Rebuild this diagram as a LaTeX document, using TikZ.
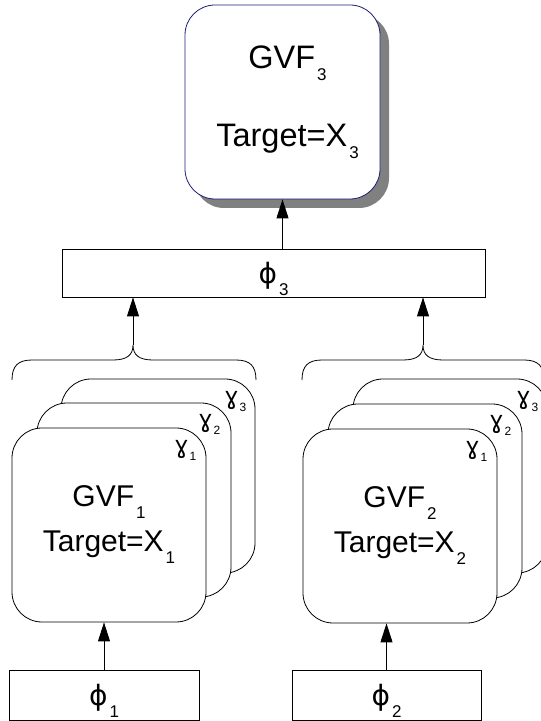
\documentclass[tikz,border=0pt]{standalone}
\usepackage{fontspec}
\setmainfont{Liberation Sans}
\newfontfamily\symfont{DejaVu Sans}
\usepackage{tikz}
\usetikzlibrary{positioning,arrows.meta,shadows}

\definecolor{gvfblue}{RGB}{30,30,120}
\definecolor{shadowgray}{RGB}{128,128,128}
\newcommand{\lowsub}[1]{\kern2pt\raisebox{-12pt}{\fontsize{17}{17}\selectfont #1}}
\newcommand{\gsub}[1]{\kern1pt\raisebox{-7pt}{\fontsize{12}{12}\selectfont #1}}
\newcommand{\phisym}{{\symfont ϕ}}
\newcommand{\gamsym}{{\symfont ɣ}}

\begin{document}
\begin{tikzpicture}[
  x=1pt, y=1pt,
  line width=0.8pt,
  card/.style={draw, rounded corners=30pt, fill=white, minimum width=194pt,
    minimum height=194pt, inner sep=0pt, align=center,
    font=\fontsize{30}{45}\selectfont},
  topbox/.style={card, draw=gvfblue, minimum width=195pt,
    font=\fontsize{32.5}{45}\selectfont,
    drop shadow={shadow xshift=9pt, shadow yshift=-9pt, fill=shadowgray, opacity=1}},
  phibox/.style={draw, fill=white, inner sep=0pt, text height=21pt, text depth=0pt,
    font=\fontsize{28}{28}\selectfont},
  gam/.style={inner sep=0pt, font=\fontsize{24}{24}\selectfont},
  arr/.style={-{Triangle[length=19pt,width=12pt]}}]
\useasboundingbox (0,0) rectangle (541,721);
% top GVF
\node[topbox] (gvf3) at (282.5,619) {\kern10pt GVF\lowsub{3}\\[33pt]\kern10pt Target=X\lowsub{3}};
% phi boxes
\node[phibox, minimum width=423pt, minimum height=48pt] (phi3) at (273.5,448) {\phisym\lowsub{3}};
\node[phibox, minimum width=190pt, minimum height=50pt] (phi1) at (104,26) {\phisym\lowsub{1}};
\node[phibox, minimum width=189pt, minimum height=50pt] (phi2) at (386.5,26) {\phisym\lowsub{2}};
% left stack (back to front)
\node[card] (l3) at (158,245) {};
\node[gam] (lg3) at ([shift={(-20,-23)}]l3.north east) {\gamsym\gsub{3}};
\node[card] (l2) at (134,221) {};
\node[gam] (lg2) at ([shift={(-22,-22)}]l2.north east) {\gamsym\gsub{2}};
\node[card] (l1) at (109,196) {GVF\lowsub{1}\\Target=X\lowsub{1}};
\node[gam] (lg1) at ([shift={(-21,-23)}]l1.north east) {\gamsym\gsub{1}};
% right stack (back to front)
\node[card] (r3) at (450,245) {};
\node[gam] (rg3) at ([shift={(-20,-23)}]r3.north east) {\gamsym\gsub{3}};
\node[card] (r2) at (425,220) {};
\node[gam] (rg2) at ([shift={(-22,-22)}]r2.north east) {\gamsym\gsub{2}};
\node[card] (r1) at (400,195) {GVF\lowsub{2}\\Target=X\lowsub{2}};
\node[gam] (rg1) at ([shift={(-21,-23)}]r1.north east) {\gamsym\gsub{1}};
% braces
\coordinate (lbtip) at (133,376);
\coordinate (rbtip) at (423,376);
\draw (12,341) .. controls (12,355) and (18,361) .. (32,361) -- (113,361)
  .. controls (127,361) and (133,366) .. (lbtip)
  .. controls (133,366) and (139,361) .. (153,361) -- (236,361)
  .. controls (250,361) and (256,355) .. (256,341);
\draw (302,341) .. controls (302,355) and (308,361) .. (322,361) -- (403,361)
  .. controls (417,361) and (423,366) .. (rbtip)
  .. controls (423,366) and (429,361) .. (443,361) -- (524,361)
  .. controls (538,361) and (544,355) .. (544,341);
% arrows
\draw[arr] (phi1.north) -- (phi1.north |- l1.south);
\draw[arr] (phi2.north) -- (phi2.north |- r1.south);
\draw[arr] (lbtip) -- (lbtip |- phi3.south);
\draw[arr] (rbtip) -- (rbtip |- phi3.south);
\draw[arr] (phi3.north -| gvf3.south) -- (gvf3.south);
\end{tikzpicture}
\end{document}
